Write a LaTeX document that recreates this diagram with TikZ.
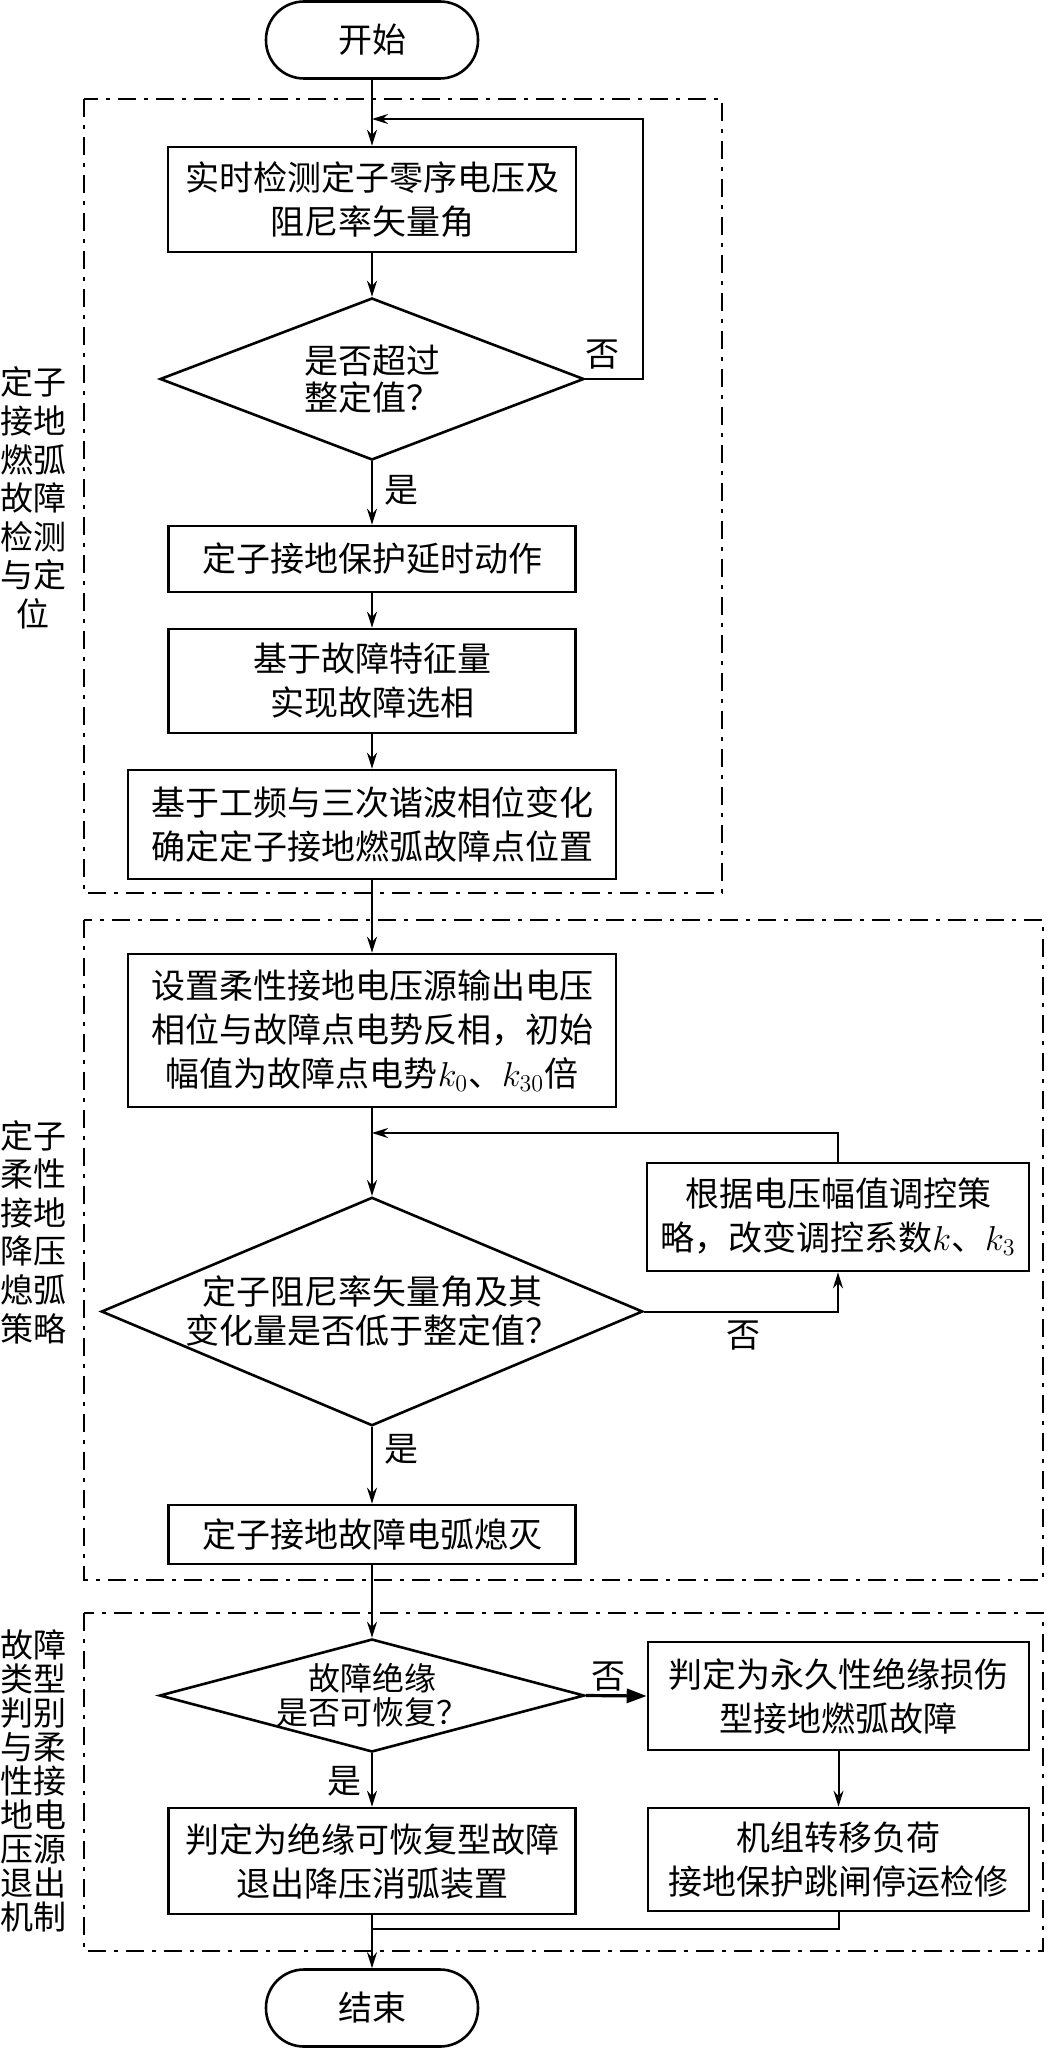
\documentclass[tikz,border=0pt]{standalone}
\usepackage{fontspec}
\setmainfont{Noto Sans CJK SC}
\usepackage{tikz}
\usetikzlibrary{arrows.meta,shapes.geometric}

\begin{document}
\begin{tikzpicture}[x=0.5pt,y=-0.5pt,
  font=\fontsize{17pt}{22pt}\selectfont,
  box/.style={draw,line width=1.3pt,align=center,inner sep=0pt},
  term/.style={draw,line width=1.3pt,rounded corners=19pt,minimum width=106pt,minimum height=38.5pt},
  cond/.style={draw,diamond,line width=1.3pt,align=center,inner sep=0pt},
  arr/.style={-{Stealth[length=8pt,width=5pt]},line width=1pt},
  flow/.style={line width=1pt},
  grp/.style={line width=1pt,dash pattern=on 9pt off 4pt on 2pt off 4pt},
  side/.style={align=center,font=\fontsize{16.5pt}{19.3pt}\selectfont}
]
\useasboundingbox (0,0) rectangle (1046,2048);
% ---- cadres ----
\draw[grp] (84,99) rectangle (722,893);
\draw[grp] (84,920) rectangle (1043,1580);
\draw[grp] (84,1613) rectangle (1043,1951);
\node[side] (lab1) at (33,498) {定子\\接地\\燃弧\\故障\\检测\\与定\\位};
\node[side] (lab2) at (33,1232) {定子\\柔性\\接地\\降压\\熄弧\\策略};
\node[side,font=\fontsize{16.5pt}{17pt}\selectfont] (lab3) at (33,1781) {故障\\类型\\判别\\与柔\\性接\\地电\\压源\\退出\\机制};
% ---- noeuds ----
\node[term] (start) at (372,40) {开始};
\node[box,minimum width=204pt,minimum height=52.5pt] (detect) at (372,199.5) {实时检测定子零序电压及\\阻尼率矢量角};
\node[cond,minimum width=212pt,minimum height=81pt,aspect=2.6,font=\fontsize{17pt}{18.5pt}\selectfont] (over) at (372,379) {是否超过\\整定值？};
\node[box,minimum width=203.5pt,minimum height=33pt] (delay) at (372,559) {定子接地保护延时动作};
\node[box,minimum width=203.5pt,minimum height=52pt] (phase) at (372,681) {基于故障特征量\\实现故障选相};
\node[box,minimum width=244pt,minimum height=54.5pt] (locate) at (372,824.5) {基于工频与三次谐波相位变化\\确定定子接地燃弧故障点位置};
\node[box,minimum width=244pt,minimum height=76.5pt] (source) at (372,1030.5) {设置柔性接地电压源输出电压\\相位与故障点电势反相，初始\\幅值为故障点电势$k_0$、$k_{30}$倍};
\node[box,minimum width=191pt,minimum height=54pt] (adjust) at (838,1217) {根据电压幅值调控策\\略，改变调控系数$k$、$k_3$};
\node[cond,minimum width=269pt,minimum height=113.5pt,aspect=2.37,font=\fontsize{17pt}{19.5pt}\selectfont] (low) at (372,1311.5) {定子阻尼率矢量角及其\\变化量是否低于整定值？};
\node[box,minimum width=203.5pt,minimum height=29.5pt] (quench) at (372,1534.5) {定子接地故障电弧熄灭};
\node[cond,minimum width=212.5pt,minimum height=56.5pt,aspect=3.76,inner ysep=-8pt,font=\fontsize{16pt}{17pt}\selectfont] (recov) at (372,1695.5) {故障绝缘\\是否可恢复？};
\node[box,minimum width=190.5pt,minimum height=54pt] (perm) at (838.5,1696) {判定为永久性绝缘损伤\\型接地燃弧故障};
\node[box,minimum width=203.5pt,minimum height=53pt] (exitdev) at (372,1861) {判定为绝缘可恢复型故障\\退出降压消弧装置};
\node[box,minimum width=190.5pt,minimum height=51.5pt] (trip) at (838.5,1859.5) {机组转移负荷\\接地保护跳闸停运检修};
\node[term] (stop) at (372,2008) {结束};
% ---- libelles ----
\node (no1) at (602,355) {否};
\node (yes1) at (401,490) {是};
\node (no2) at (743,1336) {否};
\node (yes2) at (401,1449) {是};
\node (no3) at (608,1677) {否};
\node (yes3) at (344,1781) {是};
% ---- liaisons ----
\coordinate (j1) at (372,119);
\coordinate (r1) at (643,119);
\coordinate (j2) at (372,1133);
\coordinate (j3) at (372,1929);
\draw[arr] (start) -- (detect);
\draw[arr] (detect) -- (over);
\draw[arr] (over.east) -| (r1) -- (j1);
\draw[arr] (over) -- (delay);
\draw[arr] (delay) -- (phase);
\draw[arr] (phase) -- (locate);
\draw[arr] (locate) -- (source);
\draw[arr] (source) -- (low);
\draw[arr] (low.east) -| (adjust.south);
\draw[arr] (adjust.north) |- (j2);
\draw[arr] (low) -- (quench);
\draw[arr] (quench) -- (recov);
\draw[-{Triangle[length=10pt,width=7pt]},line width=1.6pt] (recov.east) -- (perm.west);
\draw[arr] (recov) -- (exitdev);
\draw[arr] (perm) -- (trip);
\draw[flow] (exitdev) -- (j3);
\draw[flow] (trip.south) |- (j3);
\draw[arr] (j3) -- (stop);
\end{tikzpicture}
\end{document}
